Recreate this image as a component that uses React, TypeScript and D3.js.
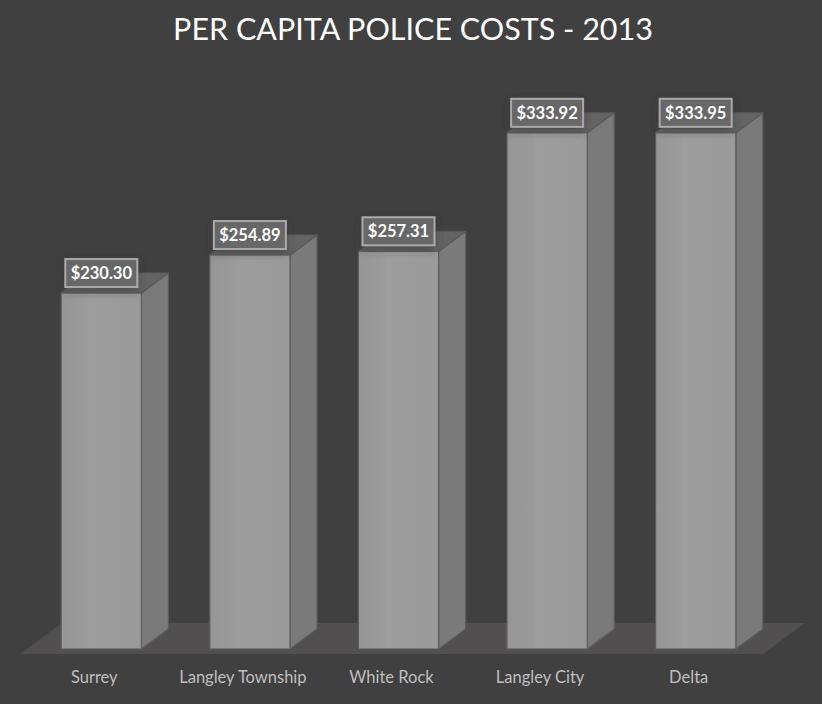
import React, { useEffect } from 'react';
import * as d3 from 'd3';

const categories = ['Surrey', 'Langley Township', 'White Rock', 'Langley City', 'Delta'];
const costs = [230.3, 254.89, 257.31, 333.92, 333.95];

const W = 822;
const H = 704;

const App = () => {
  useEffect(() => {
    document.body.style.margin = '0';
    document.body.style.background = '#404040';
  }, []);

  // floor front edge and depth
  const floorFront = 654;
  const floorDepth = { dx: 42, dy: -31 };
  const barDepth = { dx: 27, dy: -20 };
  const inset = { dx: 7, dy: -5 };

  const x = d3.scaleBand<string>()
    .domain(categories)
    .range([20, 763])
    .paddingInner(0.46)
    .paddingOuter(0.23);

  const y = d3.scaleLinear().domain([0, 350]).range([floorFront + inset.dy, 108]);

  const fmt = (v: number) => '$' + d3.format(',.2f')(v);

  const floorPath = d3.path();
  floorPath.moveTo(20, floorFront);
  floorPath.lineTo(763, floorFront);
  floorPath.lineTo(763 + floorDepth.dx, floorFront + floorDepth.dy);
  floorPath.lineTo(20 + floorDepth.dx, floorFront + floorDepth.dy);
  floorPath.closePath();

  return (
    <svg width={W} height={H} style={{ display: 'block', background: '#404040' }}>
      <defs>
        <linearGradient id="front" x1="0" x2="1" y1="0" y2="0">
          <stop offset="0" stopColor="#969696" />
          <stop offset="0.33" stopColor="#9b9b9b" />
          <stop offset="0.34" stopColor="#9e9e9e" />
          <stop offset="1" stopColor="#9a9a9a" />
        </linearGradient>
        <filter id="shadow" x="-30%" y="-30%" width="160%" height="180%">
          <feDropShadow dx="0" dy="3" stdDeviation="4" floodColor="#303030" floodOpacity="0.6" />
        </filter>
      </defs>

      <text x={413} y={40} textAnchor="middle" fill="#ffffff"
        style={{ fontFamily: 'Lato, sans-serif', fontSize: 30.5 }}>
        PER CAPITA POLICE COSTS - 2013
      </text>

      <path d={floorPath.toString()} fill="#514f4f" />

      {categories.map((c, i) => {
        const x0 = (x(c) as number) + inset.dx;
        const x1 = x0 + x.bandwidth();
        const y0 = y(0);
        const yt = y(costs[i]);
        const { dx, dy } = barDepth;
        const top = `M${x0},${yt}L${x1},${yt}L${x1 + dx},${yt + dy}L${x0 + dx},${yt + dy}Z`;
        const side = `M${x1},${yt}L${x1 + dx},${yt + dy}L${x1 + dx},${y0 + dy}L${x1},${y0}Z`;
        return (
          <g key={c}>
            <path d={side} fill="#7a7a7a" stroke="#5c5c5c" strokeWidth={1.2} strokeLinejoin="round" />
            <path d={top} fill="#646464" stroke="#5a5a5a" strokeWidth={1.2} strokeLinejoin="round" />
            <rect x={x0} y={yt} width={x.bandwidth()} height={y0 - yt}
              fill="url(#front)" stroke="#5c5c5c" strokeWidth={1.2} />
          </g>
        );
      })}

      {categories.map((c, i) => {
        const cx = (x(c) as number) + inset.dx + x.bandwidth() / 2;
        const yt = y(costs[i]);
        const label = fmt(costs[i]);
        const bw = 72;
        return (
          <g key={c + '-label'}>
            <rect x={cx - bw / 2} y={yt - 34} width={bw} height={28}
              fill="#696969" fillOpacity={0.92} stroke="#a8a8a8" strokeWidth={2}
              filter="url(#shadow)" />
            <text x={cx} y={yt - 14} textAnchor="middle" fill="#ffffff"
              style={{ fontFamily: 'Lato, sans-serif', fontSize: 16.5, fontWeight: 700 }}>
              {label}
            </text>
          </g>
        );
      })}

      {categories.map((c) => (
        <text key={c + '-cat'} x={(x(c) as number) + x.bandwidth() / 2} y={683}
          textAnchor="middle" fill="#bfbfbf"
          style={{ fontFamily: 'Lato, sans-serif', fontSize: 16.5 }}>
          {c}
        </text>
      ))}
    </svg>
  );
};

export default App;
